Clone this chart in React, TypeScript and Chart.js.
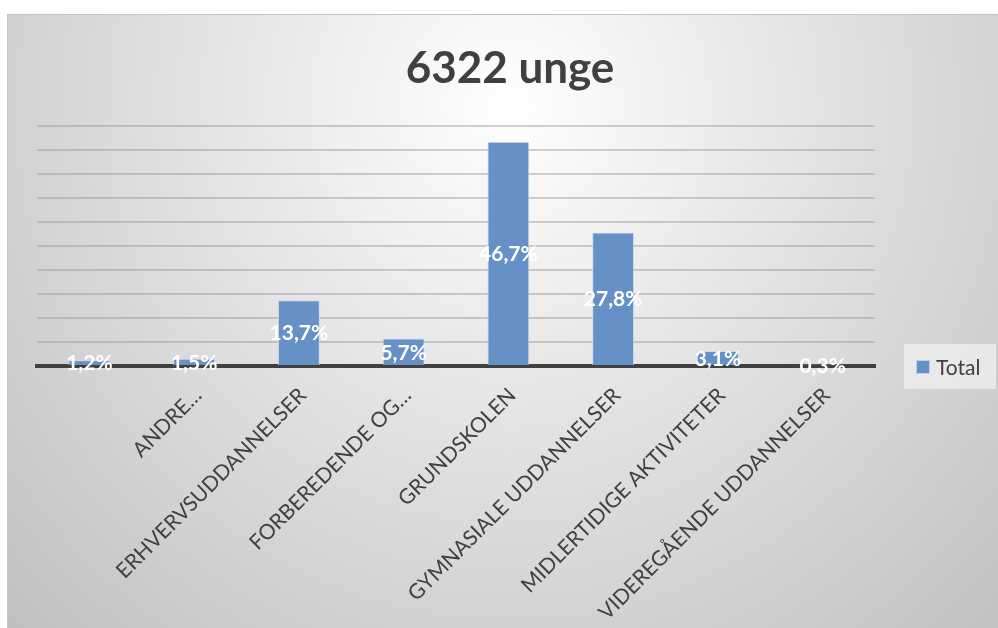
import React, { useEffect, useRef } from "react";
import { Chart, registerables } from "chart.js";

Chart.register(...registerables);

const categories = [
  "",
  "ANDRE…",
  "ERHVERVSUDDANNELSER",
  "FORBEREDENDE OG…",
  "GRUNDSKOLEN",
  "GYMNASIALE UDDANNELSER",
  "MIDLERTIDIGE AKTIVITETER",
  "VIDEREGÅENDE UDDANNELSER",
];
const totalValues = [1.2, 1.5, 13.7, 5.7, 46.7, 27.8, 3.1, 0.3];
const seriesName = "Total";
const titleText = "6322 unge";
const yMax = 50;
const yStep = 5;

const BAR_COLOR = "rgb(101,145,199)";

const dataLabelPlugin = {
  id: "dataLabels",
  afterDatasetsDraw(chart: any) {
    const ctx = chart.ctx;
    const meta = chart.getDatasetMeta(0);
    const ds = chart.data.datasets[0];
    ctx.save();
    ctx.fillStyle = "#ffffff";
    ctx.font = "bold 21px Lato";
    ctx.textAlign = "center";
    ctx.textBaseline = "middle";
    meta.data.forEach((bar: any, i: number) => {
      const v = ds.data[i] as number;
      const txt = v.toFixed(1).replace(".", ",") + "%";
      const cy = (bar.y + bar.base) / 2;
      ctx.fillText(txt, bar.x, cy + 1);
    });
    ctx.restore();
  },
};

const legendPlugin = {
  id: "customLegend",
  afterDraw(chart: any) {
    const ctx = chart.ctx;
    const ds = chart.data.datasets[0];
    const cy = (chart.chartArea.bottom as number) + 1;
    const x0 = (chart.chartArea.right as number) + 29;
    ctx.save();
    ctx.fillStyle = "rgba(240,240,240,0.75)";
    ctx.fillRect(x0, cy - 23, 92, 45);
    ctx.fillStyle = ds.backgroundColor;
    ctx.fillRect(x0 + 12, cy - 7, 14, 14);
    ctx.strokeStyle = "rgba(200,215,235,0.9)";
    ctx.lineWidth = 1;
    ctx.strokeRect(x0 + 12.5, cy - 6.5, 13, 13);
    ctx.fillStyle = "#404040";
    ctx.font = "21px Lato";
    ctx.textAlign = "left";
    ctx.textBaseline = "middle";
    ctx.fillText(ds.label, x0 + 32, cy + 1);
    ctx.restore();
  },
};

export default function App() {
  const canvasRef = useRef<HTMLCanvasElement | null>(null);

  useEffect(() => {
    if (!canvasRef.current) return;
    const chart = new Chart(canvasRef.current, {
      type: "bar",
      data: {
        labels: categories,
        datasets: [
          {
            label: seriesName,
            data: totalValues,
            backgroundColor: BAR_COLOR,
            borderColor: "rgba(200,215,235,0.8)",
            borderWidth: 1,
            barPercentage: 0.4,
            categoryPercentage: 1,
            yAxisID: "y",
          },
        ],
      },
      options: {
        responsive: false,
        animation: false,
        layout: { padding: { left: 0, right: 0, top: 0, bottom: 0 } },
        plugins: {
          legend: { display: false },
          tooltip: { enabled: false },
          title: {
            display: true,
            text: titleText,
            color: "#404040",
            font: { family: "Lato", size: 44, weight: "bold", lineHeight: 1.2 },
            padding: { top: 28, bottom: 31 },
          },
        },
        scales: {
          x: {
            grid: { display: false },
            border: { display: true, color: "#404040", width: 4 },
            ticks: {
              color: "#404040",
              font: { family: "Lato", size: 21 },
              minRotation: 45,
              maxRotation: 45,
              autoSkip: false,
              padding: 9,
              labelOffset: 4,
            },
            afterFit: (scale: any) => {
              scale.height = 262;
            },
          },
          y: {
            position: "left",
            min: 0,
            max: yMax,
            ticks: { display: false, stepSize: yStep },
            border: { display: false },
            grid: {
              color: (c: any) => (c.tick && c.tick.value === 0 ? "rgba(0,0,0,0)" : "rgba(150,150,150,0.45)"),
              lineWidth: 2,
              drawTicks: false,
            },
            afterFit: (scale: any) => {
              scale.width = 30;
            },
          },
          yRight: {
            position: "right",
            display: true,
            ticks: { display: false },
            border: { display: false },
            grid: { display: false, drawTicks: false },
            afterFit: (scale: any) => {
              scale.width = 138;
            },
          },
        },
      },
      plugins: [dataLabelPlugin, legendPlugin],
    });
    return () => chart.destroy();
  }, []);

  return (
    <div
      style={{
        position: "fixed",
        left: 7,
        top: 14,
        width: 1006,
        height: 614,
        background:
          "radial-gradient(ellipse farthest-corner at 50% 15%, #ffffff 0%, #e4e4e4 42%, #c0c0c0 100%)",
        boxShadow: "inset 0 1px 0 #c4c4c4, inset 1px 0 0 #c4c4c4",
      }}
    >
      <canvas ref={canvasRef} width={1006} height={614} style={{ display: "block" }} />
    </div>
  );
}
